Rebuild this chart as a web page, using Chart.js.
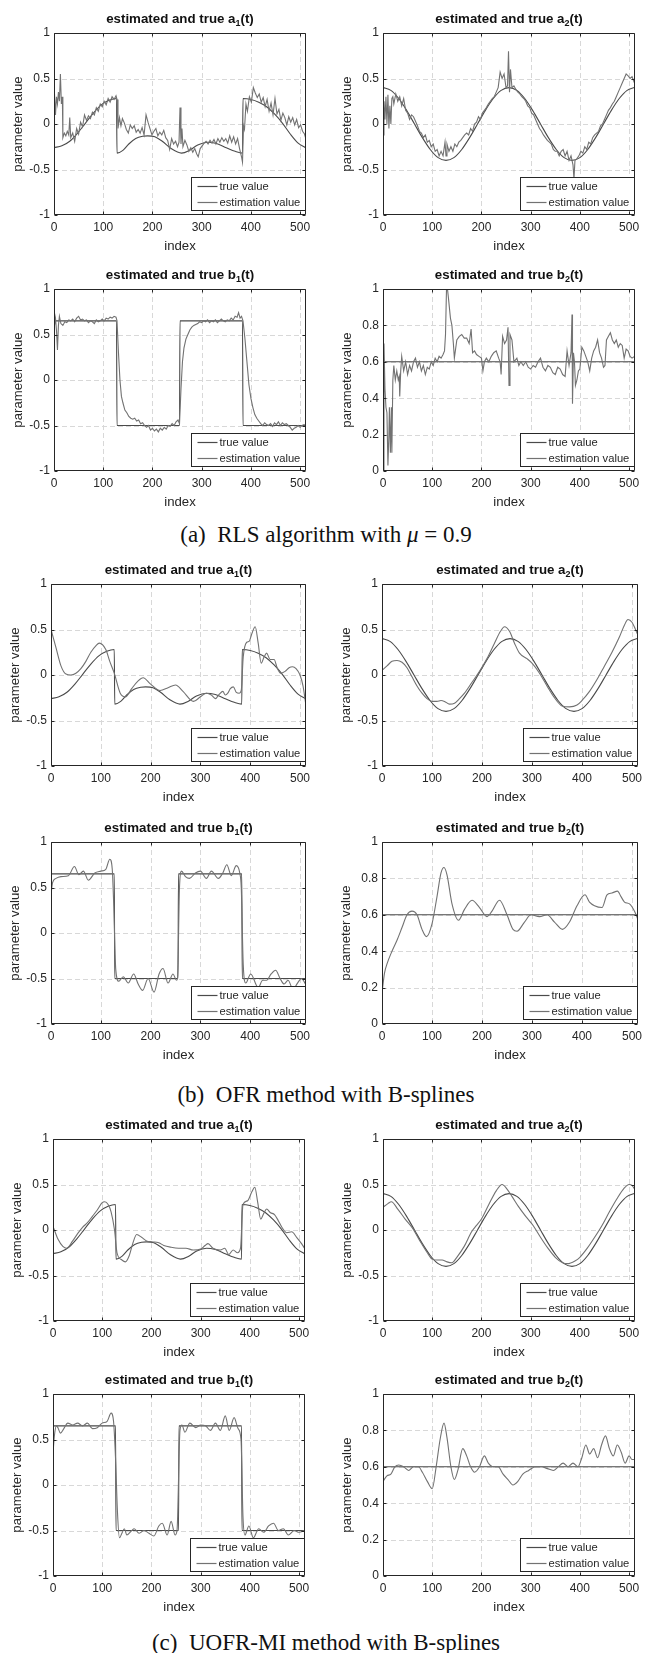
<!DOCTYPE html>
<html>
<head>
<meta charset="utf-8">
<script src="https://cdn.jsdelivr.net/npm/chart.js@4.4.1/dist/chart.umd.min.js"></script>
<style>
  body { margin: 0; background: #fff; }
  #fig { position: relative; width: 652px; height: 1653px; overflow: hidden; background: #fff; }
  #fig canvas { position: absolute; }
  .cap { position: absolute; left: 0; width: 652px; text-align: center; font: 23px "Liberation Serif", "Times New Roman", serif; line-height: 26px; color: #111; white-space: nowrap; }
</style>
</head>
<body>
<div id="fig"></div>
<script>
// axis ticks shared by all panels
const xTicks = [0, 100, 200, 300, 400, 500];
const yTicksA = [-1, -0.5, 0, 0.5, 1];
const yTicksB2 = [0, 0.2, 0.4, 0.6, 0.8, 1];
const seriesNames = ['true value', 'estimation value'];

// true parameter trajectories, [index, value]
const a1True = [[0,-0.26],[16,-0.24],[32,-0.19],[48,-0.1],[64,0.01],[80,0.12],[96,0.21],[112,0.26],[127,0.28],
  [128,-0.32],[140,-0.29],[152,-0.22],[166,-0.16],[180,-0.135],[190,-0.13],[205,-0.14],[220,-0.19],[238,-0.27],[259,-0.32],
  [275,-0.29],[292,-0.23],[312,-0.2],[330,-0.215],[350,-0.26],[368,-0.3],[383,-0.32],
  [384,0.28],[400,0.27],[416,0.24],[432,0.19],[448,0.11],[464,0.01],[480,-0.11],[496,-0.21],[511,-0.26]];
const a2True = [[0,0.4],[16,0.37],[32,0.28],[48,0.15],[64,0],[80,-0.15],[96,-0.28],[112,-0.37],[128,-0.4],
  [144,-0.37],[160,-0.28],[176,-0.15],[192,0],[208,0.15],[224,0.28],[240,0.37],[256,0.4],[272,0.37],[288,0.28],
  [304,0.15],[320,0],[336,-0.15],[352,-0.28],[368,-0.37],[384,-0.4],[400,-0.37],[416,-0.28],[432,-0.15],[448,0],
  [464,0.15],[480,0.28],[496,0.37],[511,0.4]];
const b1True = [[0,0.65],[127,0.65],[128,-0.5],[255,-0.5],[256,0.65],[383,0.65],[384,-0.5],[511,-0.5]];
const b2True = [[0,0.6],[511,0.6]];

// (a) RLS estimates
const rlsA1 = [[0,-0.28],[1,0.33],[3,0.1],[5,0.3],[7,0.22],[9,0.35],[11,0.25],[13,0.55],[15,0.22],[17,0.3],[18,-0.15],
  [21,-0.1],[24,-0.13],[27,-0.08],[30,-0.12],[32,0.07],[34,-0.15],[38,-0.1],[42,-0.19],[46,-0.05],[50,-0.11],[54,0.02],
  [58,-0.03],[62,0.1],[66,0.04],[70,0.09],[74,0.06],[78,0.13],[82,0.1],[86,0.18],[90,0.14],[94,0.22],[98,0.19],[102,0.25],
  [106,0.21],[110,0.28],[114,0.24],[118,0.3],[122,0.27],[126,0.31],[128,0.27],[130,-0.05],[133,0.07],[136,-0.02],[139,0.06],
  [143,0.01],[147,-0.06],[151,-0.1],[155,-0.01],[159,-0.05],[163,-0.02],[167,-0.09],[171,-0.06],[175,-0.1],[179,-0.04],
  [183,-0.12],[187,0.1],[191,0.02],[195,-0.05],[199,-0.12],[203,-0.08],[207,-0.05],[211,-0.13],[215,-0.09],[219,-0.12],
  [223,-0.07],[227,-0.15],[231,-0.18],[235,-0.28],[239,-0.16],[243,-0.22],[247,-0.19],[251,-0.25],[254,-0.2],[256,0.18],
  [258,-0.22],[260,-0.05],[262,-0.25],[266,-0.18],[270,-0.23],[274,-0.3],[278,-0.26],[282,-0.31],[286,-0.27],[290,-0.33],
  [293,-0.36],[297,-0.27],[301,-0.24],[305,-0.21],[309,-0.19],[313,-0.22],[317,-0.18],[321,-0.21],[325,-0.17],[329,-0.22],
  [333,-0.16],[337,-0.2],[341,-0.15],[345,-0.19],[349,-0.16],[353,-0.21],[357,-0.13],[361,-0.2],[365,-0.14],[369,-0.22],
  [373,-0.16],[377,-0.27],[381,-0.36],[383,-0.42],[385,-0.02],[387,-0.06],[390,0.22],[393,0.14],[397,0.3],[401,0.24],
  [405,0.4],[409,0.34],[413,0.29],[417,0.33],[421,0.24],[425,0.29],[429,0.19],[433,0.27],[437,0.14],[441,0.23],[445,0.1],
  [449,0.28],[453,0.11],[457,0.16],[461,0.04],[465,0.12],[469,0.07],[473,-0.01],[477,0.08],[481,0.02],[485,0.07],
  [489,-0.01],[493,0.05],[497,-0.04],[501,-0.01],[505,-0.08],[509,-0.11],[511,-0.15]];
const rlsA2 = [[0,-0.12],[2,0.25],[4,0.05],[6,0.3],[8,0.0],[10,0.32],[12,-0.05],[14,0.2],[16,0.0],[18,0.28],[20,0.3],
  [22,0.22],[26,0.33],[30,0.25],[34,0.3],[38,0.2],[42,0.28],[46,0.15],[50,0.12],[54,0.05],[58,0.1],[62,0.08],[66,0.03],
  [70,-0.02],[74,-0.08],[78,-0.1],[82,-0.15],[86,-0.12],[90,-0.2],[94,-0.18],[98,-0.25],[102,-0.22],[106,-0.3],[110,-0.28],
  [114,-0.35],[118,-0.3],[122,-0.35],[126,-0.2],[128,-0.35],[130,-0.22],[134,-0.3],[138,-0.25],[142,-0.3],[146,-0.22],
  [150,-0.25],[154,-0.2],[158,-0.18],[162,-0.15],[166,-0.12],[170,-0.1],[174,-0.12],[178,-0.05],[182,-0.08],[186,0.0],
  [190,0.02],[194,0.08],[198,0.05],[202,0.12],[206,0.15],[210,0.18],[214,0.22],[218,0.25],[222,0.28],[226,0.3],[230,0.35],
  [234,0.4],[238,0.57],[242,0.5],[246,0.55],[250,0.4],[253,0.42],[255,0.8],[257,0.35],[259,0.6],[262,0.4],[266,0.42],
  [270,0.38],[274,0.35],[278,0.33],[282,0.3],[286,0.28],[290,0.25],[294,0.2],[298,0.18],[302,0.12],[306,0.1],[310,0.05],
  [314,0.0],[318,-0.05],[322,-0.08],[326,-0.12],[330,-0.15],[334,-0.18],[338,-0.2],[342,-0.22],[346,-0.28],[350,-0.3],
  [354,-0.3],[358,-0.35],[362,-0.3],[366,-0.28],[370,-0.35],[374,-0.3],[378,-0.4],[382,-0.35],[386,-0.45],[388,-0.6],
  [390,-0.4],[394,-0.38],[398,-0.35],[402,-0.3],[406,-0.32],[410,-0.25],[414,-0.28],[418,-0.2],[422,-0.22],[426,-0.15],
  [430,-0.12],[434,-0.1],[438,-0.08],[442,-0.02],[446,0.0],[450,0.05],[454,0.1],[458,0.15],[462,0.18],[466,0.22],[470,0.25],
  [474,0.3],[478,0.35],[482,0.4],[486,0.45],[490,0.5],[494,0.55],[498,0.53],[502,0.5],[506,0.52],[511,0.45]];
const rlsB1 = [[0,0.0],[1,0.6],[3,0.68],[5,0.55],[7,0.33],[9,0.6],[11,0.7],[14,0.62],[18,0.6],[22,0.64],[26,0.63],
  [30,0.66],[34,0.65],[38,0.67],[42,0.64],[46,0.68],[50,0.7],[54,0.66],[58,0.67],[62,0.65],[66,0.66],[70,0.63],[74,0.65],
  [78,0.64],[82,0.62],[86,0.66],[90,0.64],[94,0.65],[98,0.67],[102,0.65],[106,0.68],[110,0.67],[114,0.69],[118,0.68],
  [122,0.7],[126,0.69],[128,0.65],[131,0.3],[134,0.0],[137,-0.18],[140,-0.25],[144,-0.33],[148,-0.36],[152,-0.4],
  [156,-0.42],[160,-0.43],[164,-0.42],[168,-0.45],[172,-0.44],[176,-0.48],[180,-0.47],[184,-0.5],[188,-0.52],[192,-0.5],
  [196,-0.55],[200,-0.53],[204,-0.56],[208,-0.54],[212,-0.57],[216,-0.53],[220,-0.55],[224,-0.52],[228,-0.54],[232,-0.5],
  [236,-0.51],[240,-0.48],[244,-0.5],[248,-0.46],[252,-0.44],[255,-0.48],[258,-0.1],[261,0.2],[264,0.35],[268,0.45],
  [272,0.5],[276,0.55],[280,0.58],[284,0.6],[288,0.61],[292,0.62],[296,0.64],[300,0.63],[304,0.65],[308,0.64],[312,0.66],
  [316,0.63],[320,0.65],[324,0.64],[328,0.66],[332,0.63],[336,0.65],[340,0.67],[344,0.65],[348,0.64],[352,0.66],[356,0.65],
  [360,0.68],[364,0.66],[368,0.7],[372,0.69],[375,0.74],[378,0.68],[381,0.7],[384,0.65],[388,0.45],[392,0.2],[396,-0.05],
  [400,-0.2],[404,-0.3],[408,-0.38],[412,-0.42],[416,-0.45],[420,-0.48],[424,-0.5],[428,-0.47],[432,-0.49],[436,-0.5],
  [440,-0.48],[444,-0.51],[448,-0.47],[452,-0.49],[456,-0.46],[460,-0.5],[464,-0.47],[468,-0.49],[472,-0.48],[476,-0.5],
  [480,-0.52],[484,-0.55],[488,-0.53],[492,-0.52],[496,-0.5],[500,-0.52],[504,-0.5],[508,-0.49],[511,-0.5]];
const rlsB2 = [[0,0.0],[2,0.7],[4,0.45],[6,0.35],[8,0.32],[10,0.03],[12,0.2],[13,0.35],[15,0.1],[17,0.35],[18,0.1],
  [20,0.5],[22,0.58],[25,0.5],[28,0.55],[31,0.5],[33,0.52],[34,0.41],[36,0.55],[38,0.63],[42,0.55],[46,0.6],[50,0.53],
  [54,0.58],[58,0.55],[62,0.6],[66,0.62],[70,0.57],[74,0.6],[78,0.55],[82,0.58],[86,0.53],[90,0.57],[94,0.56],[98,0.6],
  [102,0.58],[106,0.62],[110,0.6],[114,0.63],[118,0.62],[122,0.64],[125,0.66],[127,0.75],[129,1.0],[131,1.0],[133,0.95],
  [137,0.84],[140,0.8],[143,0.7],[145,0.62],[150,0.72],[155,0.74],[160,0.75],[165,0.73],[170,0.73],[175,0.7],[179,0.78],
  [182,0.65],[186,0.66],[190,0.64],[195,0.63],[200,0.62],[203,0.55],[206,0.6],[210,0.62],[215,0.6],[220,0.63],[225,0.65],
  [230,0.66],[235,0.62],[238,0.6],[240,0.53],[243,0.74],[247,0.7],[251,0.72],[254,0.79],[256,0.47],[258,0.75],[262,0.72],
  [266,0.6],[272,0.62],[276,0.58],[280,0.6],[285,0.58],[290,0.6],[295,0.57],[300,0.56],[305,0.58],[310,0.57],[315,0.6],
  [320,0.62],[325,0.57],[330,0.55],[335,0.58],[340,0.57],[345,0.54],[350,0.53],[355,0.57],[360,0.56],[365,0.53],[370,0.52],
  [374,0.66],[378,0.58],[382,0.65],[384,0.86],[385,0.37],[387,0.65],[389,0.6],[391,0.47],[394,0.5],[397,0.55],[400,0.56],
  [404,0.68],[408,0.66],[412,0.63],[416,0.6],[420,0.55],[424,0.62],[428,0.66],[432,0.68],[436,0.72],[440,0.65],[444,0.62],
  [448,0.57],[451,0.58],[454,0.72],[458,0.74],[462,0.76],[466,0.72],[470,0.7],[474,0.72],[478,0.68],[482,0.7],[486,0.69],
  [490,0.62],[494,0.67],[498,0.66],[502,0.63],[506,0.62],[511,0.63]];

// (b) OFR estimates
const ofrA1 = [[0,0.5],[10,0.3],[20,0.1],[30,0.01],[40,0.0],[50,0.02],[60,0.07],[70,0.15],[80,0.25],[90,0.32],[97,0.35],
  [110,0.28],[118,0.15],[127,0.02],[139,-0.2],[150,-0.24],[162,-0.15],[174,-0.07],[185,-0.03],[200,-0.1],[219,-0.17],
  [235,-0.14],[250,-0.11],[265,-0.18],[286,-0.29],[300,-0.24],[312,-0.2],[322,-0.22],[330,-0.26],[338,-0.21],[345,-0.18],
  [350,-0.22],[355,-0.2],[360,-0.15],[366,-0.13],[372,-0.19],[378,-0.2],[382,-0.17],[386,0.2],[393,0.36],[398,0.37],
  [403,0.45],[410,0.53],[416,0.35],[422,0.13],[428,0.2],[433,0.24],[440,0.17],[448,0.17],[454,0.08],[461,0.02],[470,0.04],
  [478,0.08],[485,0.09],[492,0.07],[500,0.0],[506,-0.12],[511,-0.3]];
const ofrA2 = [[0,0.05],[10,0.1],[20,0.15],[30,0.16],[40,0.14],[50,0.08],[60,-0.02],[70,-0.12],[80,-0.2],[90,-0.26],
  [100,-0.29],[110,-0.29],[118,-0.28],[125,-0.29],[135,-0.32],[145,-0.31],[155,-0.26],[165,-0.2],[180,-0.08],[195,0.04],
  [210,0.18],[225,0.35],[237,0.48],[245,0.53],[255,0.48],[265,0.35],[275,0.24],[290,0.18],[300,0.13],[315,0.02],
  [330,-0.12],[345,-0.25],[360,-0.34],[375,-0.35],[390,-0.33],[400,-0.28],[415,-0.18],[430,-0.05],[445,0.1],[460,0.25],
  [475,0.42],[485,0.55],[492,0.61],[500,0.58],[507,0.5],[511,0.45]];
const ofrB1 = [[0,0.42],[3,0.55],[10,0.6],[20,0.62],[35,0.63],[47,0.73],[56,0.64],[65,0.68],[75,0.58],[88,0.66],
  [100,0.68],[110,0.7],[118,0.81],[123,0.7],[126,0.3],[130,-0.4],[136,-0.53],[145,-0.48],[155,-0.55],[166,-0.45],
  [175,-0.56],[184,-0.63],[195,-0.5],[207,-0.65],[217,-0.45],[225,-0.39],[235,-0.55],[245,-0.45],[252,-0.52],[254,-0.5],
  [258,0.5],[262,0.68],[270,0.62],[278,0.6],[290,0.66],[300,0.68],[312,0.6],[322,0.68],[336,0.6],[345,0.66],[353,0.75],
  [362,0.63],[372,0.74],[379,0.66],[382,0.5],[386,-0.35],[391,-0.55],[401,-0.45],[416,-0.6],[425,-0.52],[433,-0.52],
  [442,-0.45],[451,-0.41],[460,-0.5],[468,-0.56],[476,-0.52],[486,-0.62],[495,-0.55],[503,-0.5],[511,-0.56]];
const ofrB2 = [[0,0.17],[5,0.28],[10,0.33],[20,0.4],[30,0.46],[40,0.53],[50,0.6],[60,0.62],[70,0.6],[80,0.52],[89,0.48],
  [100,0.55],[110,0.7],[118,0.83],[124,0.86],[130,0.82],[140,0.66],[153,0.57],[165,0.63],[180,0.68],[195,0.64],[210,0.59],
  [220,0.62],[235,0.68],[250,0.6],[262,0.52],[270,0.51],[285,0.56],[298,0.6],[315,0.59],[330,0.6],[345,0.56],[361,0.52],
  [375,0.56],[390,0.65],[406,0.71],[415,0.67],[425,0.65],[440,0.64],[450,0.71],[460,0.72],[471,0.73],[478,0.7],[485,0.67],
  [495,0.66],[505,0.62],[511,0.58]];

// (c) UOFR-MI estimates
const uofrA1 = [[0,0.04],[10,-0.1],[20,-0.18],[28,-0.2],[40,-0.12],[50,-0.04],[60,0.03],[70,0.08],[80,0.15],[90,0.22],
  [100,0.3],[105,0.31],[112,0.28],[118,0.2],[125,0.0],[130,-0.25],[140,-0.33],[147,-0.35],[155,-0.28],[162,-0.15],
  [170,-0.05],[180,-0.08],[190,-0.12],[200,-0.13],[215,-0.14],[225,-0.17],[240,-0.19],[255,-0.2],[270,-0.2],[285,-0.22],
  [300,-0.21],[309,-0.17],[315,-0.15],[325,-0.2],[340,-0.22],[349,-0.2],[357,-0.27],[366,-0.22],[375,-0.25],[381,-0.2],
  [386,0.28],[395,0.32],[404,0.42],[410,0.47],[416,0.3],[422,0.12],[428,0.18],[434,0.23],[442,0.19],[450,0.17],[458,0.1],
  [465,0.03],[475,-0.03],[485,-0.02],[495,-0.08],[505,-0.15],[511,-0.2]];
const uofrA2 = [[0,0.25],[10,0.29],[17,0.31],[30,0.23],[45,0.12],[60,0.02],[75,-0.12],[90,-0.25],[100,-0.32],[110,-0.33],
  [120,-0.33],[130,-0.35],[140,-0.36],[150,-0.3],[165,-0.18],[180,-0.02],[190,0.05],[200,0.12],[215,0.28],[230,0.43],
  [242,0.5],[252,0.45],[262,0.37],[275,0.26],[290,0.15],[305,0.05],[320,-0.08],[335,-0.2],[350,-0.3],[365,-0.36],
  [375,-0.37],[390,-0.34],[400,-0.3],[415,-0.2],[430,-0.08],[445,0.05],[460,0.2],[475,0.34],[490,0.46],[500,0.5],
  [506,0.49],[511,0.45]];
const uofrB1 = [[0,0.35],[3,0.55],[7,0.65],[10,0.63],[15,0.57],[22,0.62],[30,0.68],[40,0.66],[50,0.68],[60,0.65],
  [70,0.68],[80,0.62],[90,0.63],[100,0.68],[110,0.7],[118,0.79],[123,0.7],[127,0.3],[131,-0.3],[135,-0.58],[140,-0.53],
  [145,-0.48],[150,-0.55],[160,-0.5],[165,-0.48],[175,-0.53],[185,-0.5],[195,-0.53],[205,-0.56],[215,-0.45],[222,-0.42],
  [232,-0.55],[240,-0.4],[248,-0.55],[252,-0.5],[258,0.6],[262,0.66],[268,0.58],[278,0.68],[290,0.63],[300,0.66],
  [310,0.65],[320,0.6],[330,0.68],[340,0.6],[350,0.76],[358,0.6],[368,0.74],[376,0.62],[382,0.5],[386,-0.35],[390,-0.55],
  [398,-0.45],[407,-0.58],[418,-0.48],[428,-0.52],[438,-0.45],[448,-0.42],[458,-0.5],[468,-0.48],[478,-0.55],[490,-0.5],
  [500,-0.52],[511,-0.5]];
const uofrB2 = [[0,0.52],[8,0.55],[16,0.56],[24,0.6],[32,0.61],[42,0.6],[52,0.58],[62,0.6],[72,0.6],[80,0.57],[90,0.52],
  [100,0.48],[108,0.6],[116,0.75],[124,0.84],[130,0.76],[138,0.6],[145,0.53],[152,0.58],[162,0.7],[170,0.66],[178,0.6],
  [186,0.57],[196,0.6],[206,0.66],[214,0.62],[224,0.6],[234,0.6],[244,0.56],[254,0.53],[264,0.5],[274,0.52],[284,0.56],
  [296,0.58],[310,0.6],[322,0.6],[334,0.59],[346,0.58],[356,0.6],[366,0.62],[376,0.6],[386,0.62],[396,0.6],[404,0.65],
  [412,0.72],[420,0.67],[428,0.7],[436,0.65],[444,0.72],[452,0.77],[460,0.7],[468,0.66],[476,0.72],[484,0.68],[492,0.62],
  [500,0.66],[506,0.64],[511,0.64]];

// panel content, in reading order a1, a2, b1, b2
const params = [
  { sym: 'a', sub: '1', truth: a1True, yTicks: yTicksA },
  { sym: 'a', sub: '2', truth: a2True, yTicks: yTicksA },
  { sym: 'b', sub: '1', truth: b1True, yTicks: yTicksA },
  { sym: 'b', sub: '2', truth: b2True, yTicks: yTicksB2 }
];

// figure layout: each block is a 2x2 grid of axes plus its caption
const groups = [
  { est: [rlsA1, rlsA2, rlsB1, rlsB2], smooth: false, tops: [33, 289], lefts: [54, 383], rights: [306, 635],
    capTop: 522, caption: '(a)&ensp;RLS algorithm with <i>μ</i> = 0.9' },
  { est: [ofrA1, ofrA2, ofrB1, ofrB2], smooth: true, tops: [584, 842], lefts: [51, 382], rights: [306, 638],
    capTop: 1082, caption: '(b)&ensp;OFR method with B-splines' },
  { est: [uofrA1, uofrA2, uofrB1, uofrB2], smooth: true, tops: [1139, 1394], lefts: [53, 383], rights: [305, 635],
    capTop: 1630, caption: '(c)&ensp;UOFR-MI method with B-splines' }
];

const plotH = 182;
const padL = 56, padT = 26, padR = 12, padB = 42;
const axisColor = '#262626';
const gridColor = '#d8d8d8';
const trueColor = '#4a4a4a';
const estColor = '#727272';
const sans = '"Liberation Sans", Arial, Helvetica, sans-serif';
const labelFont = { family: sans, size: 13.2 };

const toPts = arr => arr.map(([x, y]) => ({ x, y }));

// MATLAB-style axes: dashed grid, boxed frame with inward ticks, legend and subscripted title
const matlabAxes = {
  id: 'matlabAxes',
  beforeDatasetsDraw(chart) {
    const { ctx, chartArea: a, scales: { x, y } } = chart;
    ctx.save();
    ctx.strokeStyle = gridColor;
    ctx.lineWidth = 1;
    ctx.setLineDash([5, 3]);
    ctx.beginPath();
    x.ticks.forEach(t => {
      const px = Math.round(x.getPixelForValue(t.value)) + 0.5;
      if (px > a.left + 2 && px < a.right - 2) { ctx.moveTo(px, a.top); ctx.lineTo(px, a.bottom); }
    });
    y.ticks.forEach(t => {
      const py = Math.round(y.getPixelForValue(t.value)) + 0.5;
      if (py > a.top + 2 && py < a.bottom - 2) { ctx.moveTo(a.left, py); ctx.lineTo(a.right, py); }
    });
    ctx.stroke();
    ctx.restore();
  },
  afterDatasetsDraw(chart, args, opts) {
    const { ctx, chartArea: a, scales: { x, y } } = chart;
    const l = Math.round(a.left) + 0.5, r = Math.round(a.right) - 0.5;
    const t = Math.round(a.top) + 0.5, b = Math.round(a.bottom) - 0.5;
    ctx.save();
    ctx.strokeStyle = axisColor;
    ctx.lineWidth = 1;
    ctx.beginPath();
    ctx.rect(l, t, r - l, b - t);
    const tl = 3;
    x.ticks.forEach(tk => {
      const px = Math.round(x.getPixelForValue(tk.value)) + 0.5;
      ctx.moveTo(px, b); ctx.lineTo(px, b - tl);
      ctx.moveTo(px, t); ctx.lineTo(px, t + tl);
    });
    y.ticks.forEach(tk => {
      const py = Math.round(y.getPixelForValue(tk.value)) + 0.5;
      ctx.moveTo(l, py); ctx.lineTo(l + tl, py);
      ctx.moveTo(r, py); ctx.lineTo(r - tl, py);
    });
    ctx.stroke();

    // legend box in the lower right corner
    const lw = 114, lh = 33;
    const lx = Math.round(r - 1 - lw) + 0.5, ly = Math.round(b - 5 - lh) + 0.5;
    ctx.fillStyle = '#fff';
    ctx.fillRect(lx, ly, lw, lh);
    ctx.strokeStyle = axisColor;
    ctx.strokeRect(lx, ly, lw, lh);
    ctx.font = '11.2px ' + sans;
    ctx.textBaseline = 'middle';
    ctx.fillStyle = axisColor;
    chart.data.datasets.forEach((ds, i) => {
      const ry = Math.round(ly + 8.5 + i * 16) + 0.5;
      ctx.strokeStyle = ds.borderColor;
      ctx.lineWidth = 1.2;
      ctx.beginPath();
      ctx.moveTo(lx + 6, ry); ctx.lineTo(lx + 26, ry);
      ctx.stroke();
      ctx.fillText(ds.label, lx + 28, ry + 0.5);
    });

    // title with subscript
    const main = 'estimated and true ' + opts.sym;
    const big = 'bold 13.3px ' + sans, small = 'bold 9px ' + sans;
    ctx.font = big; const w1 = ctx.measureText(main).width; const w3 = ctx.measureText('(t)').width;
    ctx.font = small; const w2 = ctx.measureText(opts.sub).width;
    let tx = (a.left + a.right) / 2 - (w1 + w2 + w3) / 2;
    const ty = a.top - 10;
    ctx.fillStyle = '#111';
    ctx.textBaseline = 'alphabetic';
    ctx.textAlign = 'left';
    ctx.font = big; ctx.fillText(main, tx, ty); tx += w1;
    ctx.font = small; ctx.fillText(opts.sub, tx, ty + 3); tx += w2;
    ctx.font = big; ctx.fillText('(t)', tx, ty);
    ctx.restore();
  }
};

const fig = document.getElementById('fig');

groups.forEach(g => {
  params.forEach((p, k) => {
    const row = Math.floor(k / 2), col = k % 2;
    const L = g.lefts[col], R = g.rights[col], T = g.tops[row];
    const W = R - L + padL + padR, H = plotH + padT + padB;
    const cv = document.createElement('canvas');
    cv.width = W; cv.height = H;
    cv.style.left = (L - padL) + 'px';
    cv.style.top = (T - padT) + 'px';
    cv.style.width = W + 'px'; cv.style.height = H + 'px';
    fig.appendChild(cv);

    const yMin = p.yTicks[0], yMax = p.yTicks[p.yTicks.length - 1];
    new Chart(cv.getContext('2d'), {
      type: 'line',
      data: {
        datasets: [
          { label: seriesNames[0], data: toPts(p.truth), borderColor: trueColor, borderWidth: 1.1,
            pointRadius: 0, fill: false, cubicInterpolationMode: 'monotone', order: 1 },
          { label: seriesNames[1], data: toPts(g.est[k]), borderColor: estColor, borderWidth: 1.1,
            pointRadius: 0, fill: false, tension: 0, cubicInterpolationMode: g.smooth ? 'monotone' : 'default', order: 0 }
        ]
      },
      options: {
        responsive: false,
        animation: false,
        events: [],
        devicePixelRatio: 1,
        layout: { padding: { top: padT, right: padR, left: 0, bottom: 0 } },
        plugins: {
          legend: { display: false },
          tooltip: { enabled: false },
          matlabAxes: { sym: p.sym, sub: p.sub }
        },
        scales: {
          x: {
            type: 'linear', min: 0, max: 512,
            afterBuildTicks: s => { s.ticks = xTicks.map(v => ({ value: v })); },
            afterFit: s => { s.height = padB; },
            grid: { display: false, drawTicks: false },
            border: { display: false },
            ticks: { autoSkip: false, maxRotation: 0, padding: 5, color: axisColor,
              font: { family: sans, size: 12 }, callback: v => String(v) },
            title: { display: true, text: 'index', color: axisColor, font: labelFont,
              padding: { top: 0, bottom: 2.4 } }
          },
          y: {
            type: 'linear', min: yMin, max: yMax,
            afterBuildTicks: s => { s.ticks = p.yTicks.map(v => ({ value: v })); },
            afterFit: s => { s.width = padL; },
            grid: { display: false, drawTicks: false },
            border: { display: false },
            ticks: { autoSkip: false, padding: 4, color: axisColor,
              font: { family: sans, size: 12 }, callback: v => String(v) },
            title: { display: true, text: 'parameter value', color: axisColor, font: labelFont,
              padding: { top: 12, bottom: 0 } }
          }
        }
      },
      plugins: [matlabAxes]
    });
  });

  const cap = document.createElement('div');
  cap.className = 'cap';
  cap.style.top = g.capTop + 'px';
  cap.innerHTML = g.caption;
  fig.appendChild(cap);
});
</script>
</body>
</html>
